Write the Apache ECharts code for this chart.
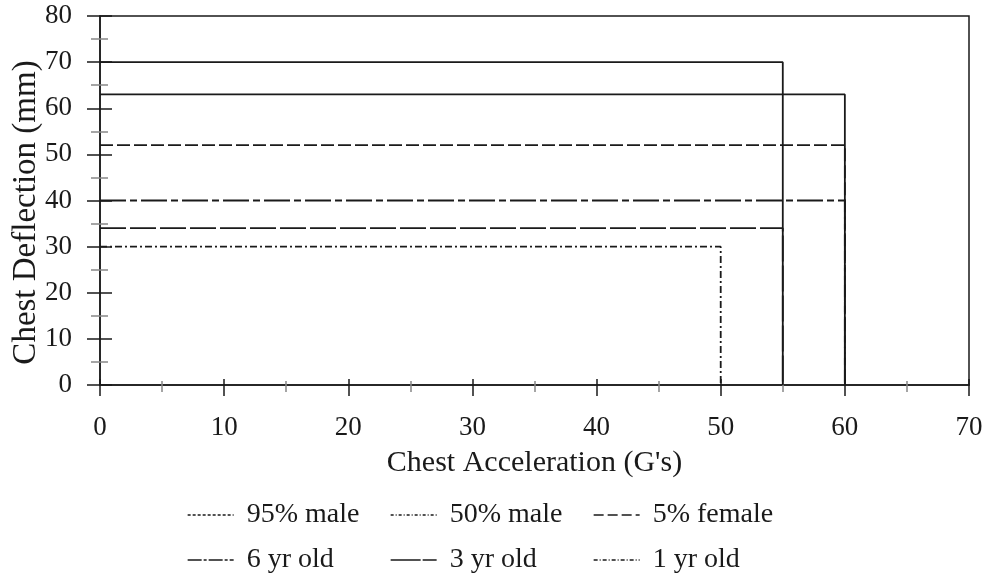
<!DOCTYPE html>
<html>
<head>
<meta charset="utf-8">
<script src="https://cdn.jsdelivr.net/npm/echarts@6/dist/echarts.min.js"></script>
<style>
  html, body { margin: 0; padding: 0; background: #fff; }
  #chart { width: 985px; height: 578px; }
</style>
</head>
<body>
<div id="chart"></div>
<script>
// dummy types and their limits (accel in G's, deflection in mm)
const dummies = ['95% male', '50% male', '5% female', '6 yr old', '3 yr old', '1 yr old'];
const accelLimits = [55, 60, 60, 60, 55, 50];
const deflLimits = [70, 63, 52, 40, 34, 30];
const xTicks = [0, 10, 20, 30, 40, 50, 60, 70];
const yTicks = [0, 10, 20, 30, 40, 50, 60, 70, 80];

// dash pattern used in the plot and the one shown in the legend
const plotDash = ['solid', 'solid', [13, 4], [26, 4, 7, 4], [26, 4], [7, 3, 2, 3]];
const legendDash = [[3, 2], [3, 2, 1, 2], [10, 4], [14, 2, 3, 2], [30, 2], [4, 2, 1, 2]];

const FONT = 'Liberation Serif, Times New Roman, serif';
const INK = '#1a1a1a';

const legendPos = [
  [187, 501], [390, 501], [593, 501],
  [187, 546], [390, 546], [593, 546]
];

const series = dummies.map((name, i) => ({
  name: name,
  type: 'line',
  xAxisIndex: 0,
  yAxisIndex: 0,
  symbol: 'none',
  silent: true,
  color: INK,
  data: [[0, deflLimits[i]], [accelLimits[i], deflLimits[i]], [accelLimits[i], 0]],
  lineStyle: { color: INK, width: 1.8, type: plotDash[i] }
}));

const legends = dummies.map((name, i) => ({
  left: legendPos[i][0],
  top: legendPos[i][1],
  padding: 0,
  itemWidth: 46,
  itemHeight: 14,
  selectedMode: false,
  textStyle: { fontFamily: FONT, fontSize: 28, color: INK, padding: [0, 0, 0, 8] },
  data: [{
    name: name,
    itemStyle: { opacity: 0 },
    lineStyle: { color: INK, width: 1.3, type: legendDash[i] }
  }]
}));

function makeX(inside, main) {
  return {
    type: 'value', min: 0, max: 70, interval: 10,
    position: 'bottom',
    name: main ? "Chest Acceleration (G's)" : '',
    nameLocation: 'middle', nameGap: 63,
    nameMoveOverlap: false,
    nameTextStyle: { fontFamily: FONT, fontSize: 30, color: INK },
    axisLine: { show: main, onZero: false, lineStyle: { color: INK, width: 1.5 } },
    axisTick: { show: true, inside: inside, length: inside ? 6 : 11, lineStyle: { color: INK, width: 1.5 } },
    minorTick: { show: true, splitNumber: 2, length: inside ? 4 : 7, lineStyle: { color: '#888', width: 1.5 } },
    axisLabel: { show: main, margin: 29, fontFamily: FONT, fontSize: 27, color: INK,
      formatter: v => xTicks.includes(v) ? String(v) : '' },
    splitLine: { show: false }
  };
}

function makeY(inside, main) {
  return {
    type: 'value', min: 0, max: 80, interval: 10,
    position: 'left',
    name: main ? 'Chest Deflection (mm)' : '',
    nameLocation: 'middle', nameGap: 57,
    nameMoveOverlap: false,
    nameTextStyle: { fontFamily: FONT, fontSize: 33, color: INK, padding: [0, 24, 0, 0] },
    axisLine: { show: main, onZero: false, lineStyle: { color: INK, width: 1.5 } },
    axisTick: { show: true, inside: inside, length: inside ? 12 : 13, lineStyle: { color: INK, width: 1.5 } },
    minorTick: { show: true, splitNumber: 2, length: inside ? 8 : 9, lineStyle: { color: '#888', width: 1.5 } },
    axisLabel: { show: main, margin: 28, fontFamily: FONT, fontSize: 27, color: INK,
      formatter: v => yTicks.includes(v) ? String(v) : '' },
    splitLine: { show: false }
  };
}

const chart = echarts.init(document.getElementById('chart'), null, { renderer: 'canvas' });
chart.setOption({
  animation: false,
  backgroundColor: '#fff',
  grid: {
    left: 100, right: 16, top: 16, bottom: 193,
    outerBoundsMode: 'none',
    show: true, borderColor: INK, borderWidth: 1.5, backgroundColor: 'transparent'
  },
  legend: legends,
  xAxis: [makeX(false, true), makeX(true, false)],
  yAxis: [makeY(false, true), makeY(true, false)],
  series: series
});
</script>
</body>
</html>
